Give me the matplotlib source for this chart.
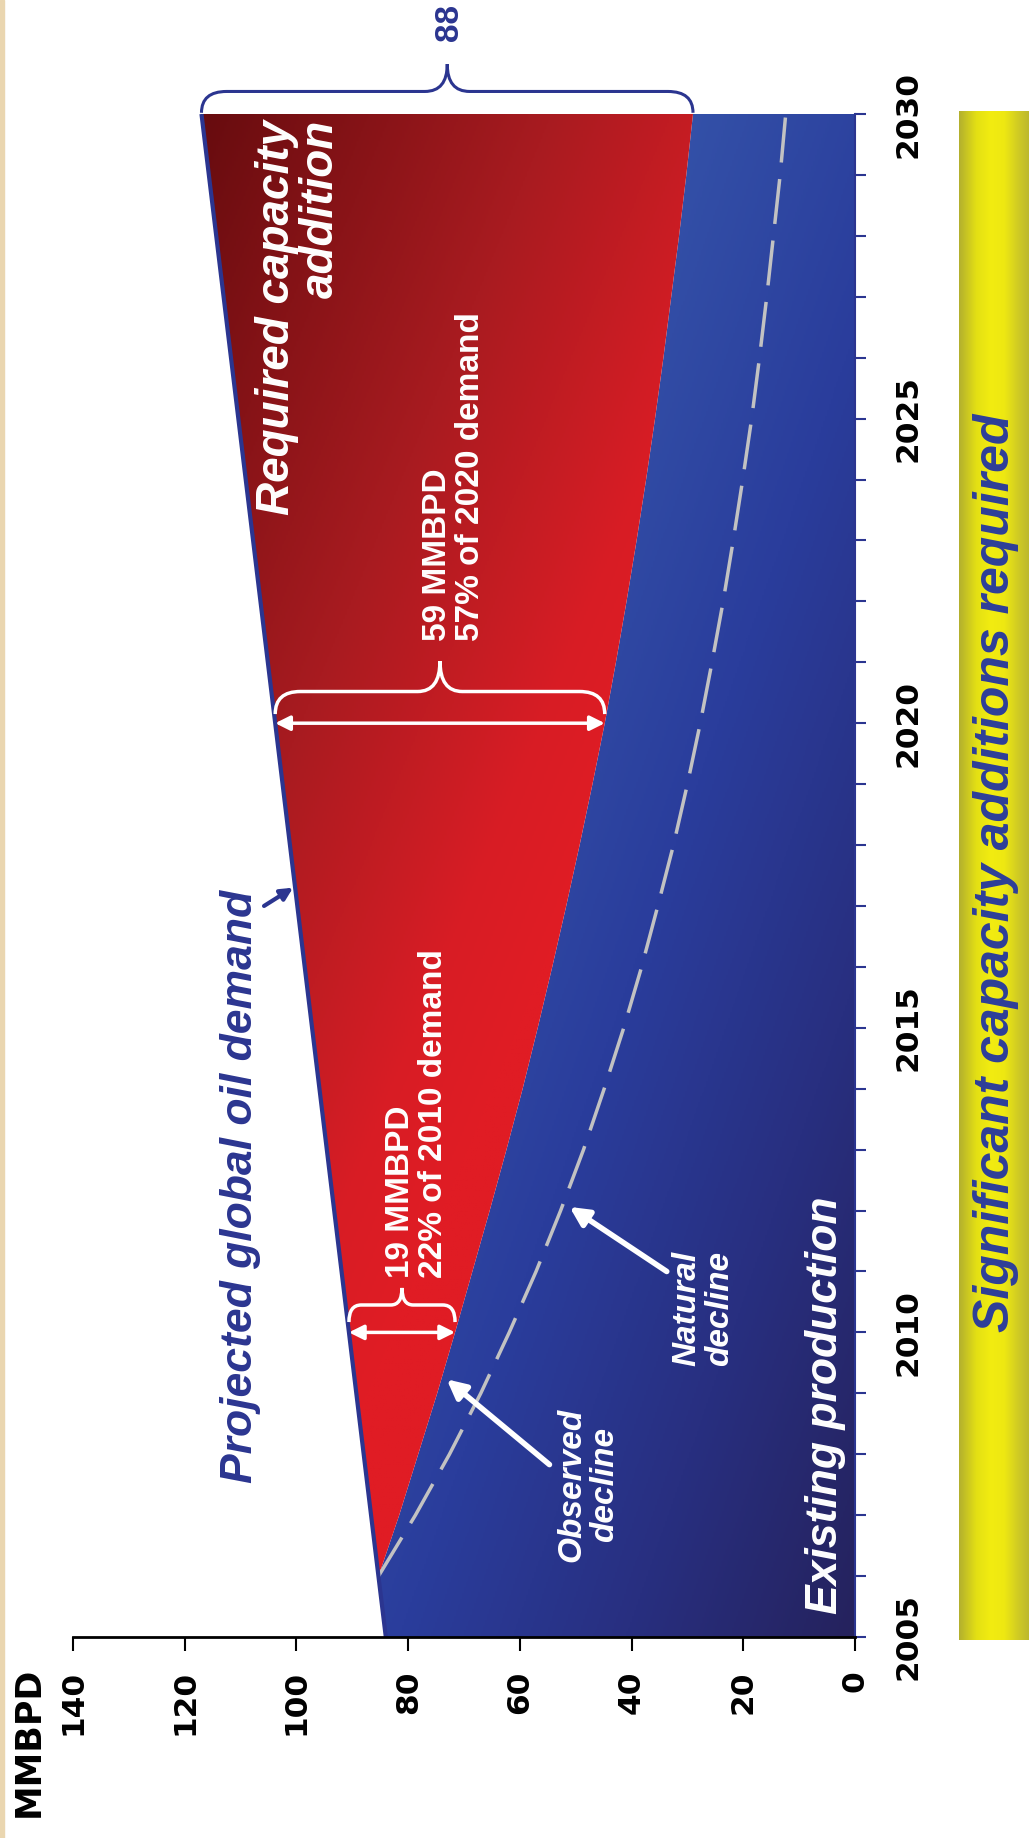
import numpy as np
import matplotlib
matplotlib.use("Agg")
import matplotlib.pyplot as plt
from matplotlib.colors import LinearSegmentedColormap
from matplotlib.patches import Polygon, Rectangle, PathPatch
from matplotlib.path import Path

plt.rcParams['font.family'] = ['Liberation Sans', 'DejaVu Sans']

# Demand and supply outlook, million barrels per day
demand_years = [2005, 2010, 2015, 2020, 2025, 2030]
demand = [84.0, 90.6, 97.2, 103.8, 110.4, 117.0]

prod_years = [2005, 2006, 2007, 2008, 2009, 2010, 2011, 2012, 2013, 2014, 2015,
              2016, 2017, 2018, 2019, 2020, 2021, 2022, 2023, 2024, 2025,
              2026, 2027, 2028, 2029, 2030]
observed = [84.0, 85.3, 81.6, 78.2, 74.8, 71.6, 68.5, 65.4, 62.4, 59.5, 56.8,
            54.2, 51.7, 49.3, 47.0, 44.8, 42.8, 40.9, 39.1, 37.4, 35.8,
            34.3, 32.9, 31.5, 30.2, 29.0]

natural_years = [2006, 2007, 2008, 2009, 2010, 2011, 2012, 2013, 2014, 2015,
                 2016, 2017, 2018, 2019, 2020, 2021, 2022, 2023, 2024, 2025,
                 2026, 2027, 2028, 2029, 2030]
natural = [85.3, 78.7, 72.6, 67.0, 61.9, 57.1, 52.7, 48.6, 44.9, 41.4,
           38.2, 35.3, 32.5, 30.0, 27.7, 25.6, 23.6, 21.8, 20.1, 18.5,
           17.1, 15.8, 14.6, 13.4, 12.4]

gap_2010 = 19
gap_2020 = 59
gap_2030 = 88

value_ticks = [0, 20, 40, 60, 80, 100, 120, 140]
year_ticks = [2005, 2010, 2015, 2020, 2025, 2030]

navy = '#2b3590'
tick_font = dict(family='DejaVu Sans', fontsize=22.5, fontweight='bold')

fig = plt.figure(figsize=(10.29, 18.38), dpi=100)
fig.patch.set_facecolor('white')
fig.patches.append(Rectangle((0, 0), 3.5 / 1029, 1, transform=fig.transFigure,
                             color='#ead6b0', zorder=0))

ax = fig.add_axes([73 / 1029, 201 / 1838, 782 / 1029, 1523 / 1838])
ax.set_facecolor('none')

# demand curve sampled on the production years
dem_on_prod = np.interp(prod_years, demand_years, demand)

# shaded regions (gradient images clipped to polygons)
blue_poly = Polygon([(0, 2005)] + list(zip(observed, prod_years)) + [(0, 2030)],
                    closed=True, facecolor='none', edgecolor='none')
red_poly = Polygon(list(zip(dem_on_prod, prod_years)) +
                   list(zip(observed[::-1], prod_years[::-1])),
                   closed=True, facecolor='none', edgecolor='none')
ax.add_patch(blue_poly)
ax.add_patch(red_poly)

fx = np.linspace(0, 1, 400)
fy = np.linspace(0, 1, 800)
GX, GY = np.meshgrid(fx, fy)
px = 62 + GX * 668
py = 1397 - GY * 1300

red_cmap = LinearSegmentedColormap.from_list(
    'reds', [(0, '#680c0f'), (0.5, '#a81b20'), (0.85, '#d81d25'), (1, '#e01c24')])
blue_cmap = LinearSegmentedColormap.from_list(
    'blues', [(0, '#3656ab'), (0.4, '#2a3d9c'), (0.7, '#282f80'), (1, '#25225d')])

s_red = np.clip(0.0017 * (px - 175) + 0.0007 * (py - 100), 0, 1)
s_blue = np.clip(0.00154 * (px - 330) + 0.000539 * (py - 100) - 0.315, 0, 1)

im_b = ax.imshow(s_blue, cmap=blue_cmap, vmin=0, vmax=1, extent=(0, 1, 0, 1),
                 transform=ax.transAxes, origin='lower', aspect='auto', zorder=1)
im_b.set_clip_path(blue_poly)
im_r = ax.imshow(s_red, cmap=red_cmap, vmin=0, vmax=1, extent=(0, 1, 0, 1),
                 transform=ax.transAxes, origin='lower', aspect='auto', zorder=1)
im_r.set_clip_path(red_poly)

# natural decline and demand lines
ax.plot(natural, natural_years, color='#c2c2c2', lw=2.5,
        linestyle=(0, (13, 4.8)), zorder=3)
ax.plot(demand, demand_years, color=navy, lw=3, zorder=4, solid_capstyle='butt')

ax.set_xlim(140, 0)
ax.set_ylim(2005, 2030)

# axes styling
for side in ['top', 'left']:
    ax.spines[side].set_visible(False)
ax.spines['bottom'].set_color('black')
ax.spines['bottom'].set_linewidth(2)
ax.spines['right'].set_color(navy)
ax.spines['right'].set_linewidth(1.5)
ax.spines['bottom'].set_zorder(5)

ax.set_xticks(value_ticks)
ax.set_xticklabels([str(v) for v in value_ticks], rotation=90, **tick_font)
ax.tick_params(axis='x', direction='out', length=10, width=1.5, color='black', pad=14)

ax.yaxis.tick_right()
ax.set_yticks(year_ticks)
ax.set_yticks(range(2005, 2031), minor=True)
ax.set_yticklabels([str(y) for y in year_ticks], rotation=90, **tick_font)
for lbl in ax.get_yticklabels():
    lbl.set_va('center')
ax.tick_params(axis='y', which='both', direction='out', length=8, width=1.5,
               color=navy, pad=20)

fig.text(29 / 1029, 1 - 1742 / 1838, 'MMBPD', rotation=90, ha='center', va='center',
         family='DejaVu Sans', fontsize=25, fontweight='bold')


def brace(xa, xb, y0, arm, tip, r, rt, color, lw):
    xm = (xa + xb) / 2
    s = 1 if xb > xa else -1
    y1 = y0 + arm
    y2 = y1 + tip
    verts = [(xa, y0), (xa, y1), (xa + s * r, y1), (xm - s * rt, y1),
             (xm, y1), (xm, y2), (xm, y1), (xm + s * rt, y1),
             (xb - s * r, y1), (xb, y1), (xb, y0)]
    codes = [Path.MOVETO, Path.CURVE3, Path.CURVE3, Path.LINETO,
             Path.CURVE3, Path.CURVE3, Path.CURVE3, Path.CURVE3,
             Path.LINETO, Path.CURVE3, Path.CURVE3]
    ax.add_patch(PathPatch(Path(verts, codes), facecolor='none', edgecolor=color,
                           lw=lw, clip_on=False, zorder=6))


# gap arrows and braces
d2010 = np.interp(2010, demand_years, demand)
d2020 = np.interp(2020, demand_years, demand)
d2030 = np.interp(2030, demand_years, demand)
for yr, top, gap in [(2010, d2010, gap_2010), (2020, d2020, gap_2020)]:
    ax.annotate('', xy=(top - gap, yr), xytext=(top, yr),
                arrowprops=dict(arrowstyle='<|-|>', color='white', lw=2.5,
                                mutation_scale=22, shrinkA=0, shrinkB=0), zorder=6)
brace(d2010, d2010 - gap_2010, 2010.17, 0.28, 0.28, 2.2, 2.0, 'white', 2.5)
brace(d2020, d2020 - gap_2020, 2020.15, 0.37, 0.5, 4.5, 4.0, 'white', 2.5)
brace(d2030, d2030 - gap_2030, 2030.02, 0.35, 0.45, 4.5, 4.0, navy, 2.2)

ax.text(72.6, 2031.5, f'{gap_2030}', rotation=90, ha='center', va='center',
        fontsize=24, fontweight='bold', color=navy, clip_on=False)

ax.text(78.4, 2010.9, f'{gap_2010} MMBPD\n22% of 2010 demand', rotation=90,
        ha='center', va='bottom', multialignment='left', fontsize=24,
        fontweight='bold', color='white', linespacing=1.05, zorder=7)
ax.text(71.8, 2021.35, f'{gap_2020} MMBPD\n57% of 2020 demand', rotation=90,
        ha='center', va='bottom', multialignment='left', fontsize=24,
        fontweight='bold', color='white', linespacing=1.05, zorder=7)

ax.text(99.6, 2029.9, 'Required capacity\naddition', rotation=90, ha='center',
        va='top', multialignment='right', fontsize=33, fontweight='bold',
        fontstyle='italic', color='white', linespacing=1.0, zorder=7)
ax.text(110, 2012.4, 'Projected global oil demand', rotation=90, ha='center',
        va='center', fontsize=32, fontweight='bold', fontstyle='italic',
        color=navy, zorder=7)
ax.annotate('', xy=(100.6, 2017.3), xytext=(105.8, 2017.0),
            arrowprops=dict(arrowstyle='-|>', color=navy, lw=3,
                            mutation_scale=18, shrinkA=0, shrinkB=0), zorder=7)

ax.text(5.2, 2008.8, 'Existing production', rotation=90, ha='center', va='center',
        fontsize=32, fontweight='bold', fontstyle='italic', color='white', zorder=7)
ax.text(47.8, 2007.5, 'Observed\ndecline', rotation=90, ha='center', va='center',
        multialignment='center', fontsize=24, fontweight='bold', fontstyle='italic',
        color='white', linespacing=1.05, zorder=7)
ax.text(27.2, 2010.4, 'Natural\ndecline', rotation=90, ha='center', va='center',
        multialignment='center', fontsize=24, fontweight='bold', fontstyle='italic',
        color='white', linespacing=1.05, zorder=7)
ax.annotate('', xy=(73.1, 2009.23), xytext=(54.7, 2007.83),
            arrowprops=dict(arrowstyle='-|>', color='white', lw=4,
                            mutation_scale=28, shrinkA=0, shrinkB=0), zorder=7)
ax.annotate('', xy=(51.1, 2012.06), xytext=(33.7, 2011.0),
            arrowprops=dict(arrowstyle='-|>', color='white', lw=4,
                            mutation_scale=28, shrinkA=0, shrinkB=0), zorder=7)

# yellow banner on the right
bar = fig.add_axes([959 / 1029, 198 / 1838, 70 / 1029, 1529 / 1838])
bar_cmap = LinearSegmentedColormap.from_list(
    'bar', [(0, '#b3b02e'), (0.25, '#e4e014'), (0.45, '#f2ec10'), (0.65, '#eee812'),
            (0.85, '#d0cb24'), (1, '#bcb82e')])
bar.imshow(np.linspace(0, 1, 200)[None, :], cmap=bar_cmap, aspect='auto',
           extent=(0, 1, 0, 1))
bar.axis('off')
fig.text(996 / 1029, 1 - 873 / 1838, 'Significant capacity additions required',
         rotation=90, ha='center', va='center', fontsize=36, fontweight='bold',
         fontstyle='italic', color='#2d3e9a')

fig.savefig('out.png', dpi=100, facecolor='white')
